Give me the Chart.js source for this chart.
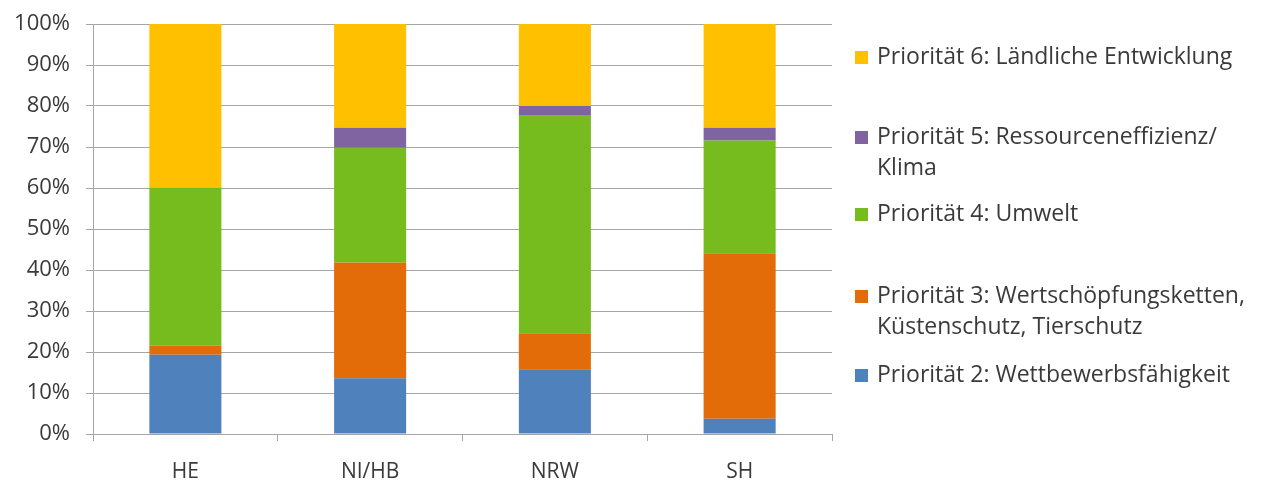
<!DOCTYPE html>
<html>
<head>
<meta charset="utf-8">
<script src="https://cdn.jsdelivr.net/npm/chart.js@4"></script>
<style>
  html, body { margin: 0; padding: 0; background: #fff; }
  #wrap { width: 1265px; height: 480px; }
</style>
</head>
<body>
<div id="wrap"><canvas id="c" width="1265" height="480"></canvas></div>
<script>
// Regions
const regions = ['HE', 'NI/HB', 'NRW', 'SH'];

// Share of funds per priority (percent)
const prio2 = [19.3, 13.6, 15.8, 3.7];
const prio3 = [2.2, 28.2, 8.8, 40.4];
const prio4 = [38.6, 28.0, 53.2, 27.5];
const prio5 = [0.0, 4.9, 2.2, 3.1];
const prio6 = [39.9, 25.3, 20.0, 25.3];

const yTicks = [0, 10, 20, 30, 40, 50, 60, 70, 80, 90, 100];

const seriesNames = [
  ['Priorität 2: Wettbewerbsfähigkeit'],
  ['Priorität 3: Wertschöpfungsketten,', 'Küstenschutz, Tierschutz'],
  ['Priorität 4: Umwelt'],
  ['Priorität 5: Ressourceneffizienz/', 'Klima'],
  ['Priorität 6: Ländliche Entwicklung']
];
const seriesColors = ['#4f81bd', '#e36c09', '#77bc1f', '#8064a2', '#ffc000'];
const seriesValues = [prio2, prio3, prio4, prio5, prio6];

const FONT = '"Open Sans", "Noto Sans", sans-serif';
const TEXT = '#3a3a3a';
const GRID = '#a6a6a6';

// Legend drawn on the right, top entry first
const legendPlugin = {
  id: 'sideLegend',
  afterDraw(chart) {
    const ctx = chart.ctx;
    const rows = [
      { i: 4, y: 57 },
      { i: 3, y: 137 },
      { i: 2, y: 214 },
      { i: 1, y: 296 },
      { i: 0, y: 375 }
    ];
    ctx.save();
    ctx.font = '23px ' + FONT;
    ctx.textBaseline = 'middle';
    rows.forEach(r => {
      const ds = chart.data.datasets[r.i];
      ctx.fillStyle = ds.backgroundColor;
      ctx.fillRect(855, r.y - 6, 13, 13);
      ctx.fillStyle = TEXT;
      seriesNames[r.i].forEach((line, k) => {
        ctx.fillText(line, 877, r.y + k * 31);
      });
    });
    ctx.restore();
  }
};

new Chart(document.getElementById('c'), {
  type: 'bar',
  data: {
    labels: regions,
    datasets: seriesValues.map((vals, i) => ({
      label: seriesNames[i].join(' '),
      data: vals,
      backgroundColor: seriesColors[i],
      borderWidth: 0,
      barPercentage: 0.39,
      categoryPercentage: 1.0
    }))
  },
  options: {
    responsive: false,
    animation: false,
    layout: { padding: { top: 24, right: 433, left: 0, bottom: 0 } },
    plugins: {
      legend: { display: false },
      tooltip: { enabled: false }
    },
    scales: {
      x: {
        stacked: true,
        afterFit(s) { s.height = 46; },
        grid: {
          offset: true,
          drawOnChartArea: false,
          drawTicks: true,
          tickLength: 7,
          color: GRID
        },
        border: { color: GRID, width: 1 },
        ticks: {
          color: TEXT,
          font: { family: FONT, size: 21 },
          padding: 18
        }
      },
      y: {
        stacked: true,
        min: 0,
        max: 100,
        afterFit(s) {
          s.width = 93;
          s.paddingTop = 0;
          s.paddingBottom = 0;
        },
        afterBuildTicks(s) { s.ticks = yTicks.map(v => ({ value: v })); },
        grid: {
          color: GRID,
          lineWidth: 1,
          drawTicks: true,
          tickLength: 7
        },
        border: { color: GRID, width: 1 },
        ticks: {
          color: TEXT,
          font: { family: FONT, size: 22 },
          padding: 16,
          callback: v => v + '%'
        }
      }
    }
  },
  plugins: [legendPlugin]
});
</script>
</body>
</html>
